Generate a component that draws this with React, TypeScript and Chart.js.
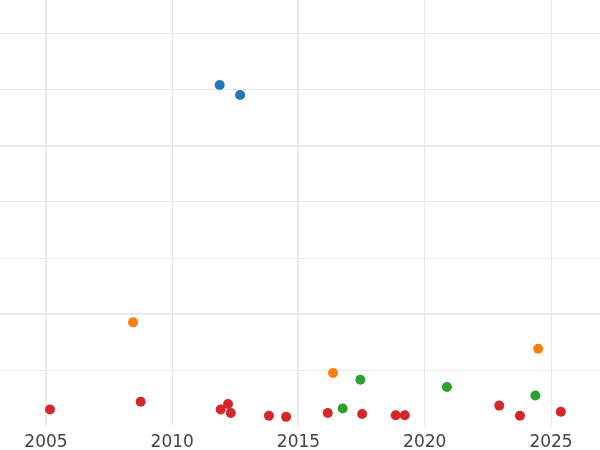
import React, { useEffect, useRef } from "react";
import { Chart, registerables } from "chart.js";

Chart.register(...registerables);

// Tick labels / grid positions
const xTicks = [2005, 2010, 2015, 2020, 2025];
const xMajor = [2005, 2015];
const yTicks = [1, 2, 3, 4, 5, 6, 7];
const yMajor = [2, 5];

// Series (blue, orange, green, red)
const blueX = [2011.88, 2012.69];
const blueY = [6.08, 5.9];

const orangeX = [2008.45, 2016.37, 2024.49];
const orangeY = [1.86, 0.96, 1.39];

const greenX = [2017.45, 2016.75, 2020.88, 2024.38];
const greenY = [0.84, 0.33, 0.71, 0.56];

const redX = [2005.16, 2008.75, 2011.92, 2012.21, 2012.32, 2013.83, 2014.51, 2016.16, 2017.52, 2018.85, 2019.21, 2022.95, 2023.77, 2025.39];
const redY = [0.31, 0.45, 0.31, 0.41, 0.25, 0.2, 0.18, 0.25, 0.23, 0.21, 0.21, 0.38, 0.2, 0.27];

const zip = (xs: number[], ys: number[]) => xs.map((x, i) => ({ x, y: ys[i] }));

export default function App() {
  const ref = useRef<HTMLCanvasElement | null>(null);
  useEffect(() => {
    if (!ref.current) return;
    const mk = (label: string, xs: number[], ys: number[], color: string) => ({
      label,
      data: zip(xs, ys),
      backgroundColor: color,
      borderColor: color,
      borderWidth: 0,
      pointRadius: 5,
      pointHoverRadius: 5,
    });
    const chart = new Chart(ref.current, {
      type: "scatter",
      data: {
        datasets: [
          mk("blue", blueX, blueY, "#1f77b4"),
          mk("orange", orangeX, orangeY, "#ff7f0e"),
          mk("green", greenX, greenY, "#2ca02c"),
          mk("red", redX, redY, "#d62728"),
        ],
      },
      options: {
        responsive: false,
        animation: false,
        layout: { padding: 0, autoPadding: false },
        plugins: { legend: { display: false }, tooltip: { enabled: false } },
        scales: {
          x: {
            type: "linear",
            min: 2003.18,
            max: 2026.94,
            afterBuildTicks: (s: any) => {
              s.ticks = xTicks.map((v) => ({ value: v }));
            },
            afterFit: (s: any) => {
              s.height = 23;
            },
            border: { display: false },
            grid: {
              color: "#ebebeb",
              drawTicks: false,
              lineWidth: (c: any) => (xMajor.includes(c.tick?.value) ? 2 : 1),
            },
            ticks: {
              color: "#444444",
              padding: 5,
              maxRotation: 0,
              autoSkip: false,
              font: { family: "DejaVu Sans", size: 17 },
              callback: (v: any) => String(v),
            },
          },
          y: {
            type: "linear",
            min: 0,
            max: 7.59,
            afterBuildTicks: (s: any) => {
              s.ticks = yTicks.map((v) => ({ value: v }));
            },
            border: { display: false },
            grid: {
              color: "#ebebeb",
              drawTicks: false,
              lineWidth: (c: any) => (yMajor.includes(c.tick?.value) ? 2 : 1),
            },
            ticks: { display: false },
          },
        },
      },
    } as any);
    return () => chart.destroy();
  }, []);
  return (
    <div style={{ position: "fixed", left: 0, top: 0, width: 600, height: 450, background: "#fff" }}>
      <canvas ref={ref} width={600} height={450} style={{ display: "block" }} />
    </div>
  );
}
